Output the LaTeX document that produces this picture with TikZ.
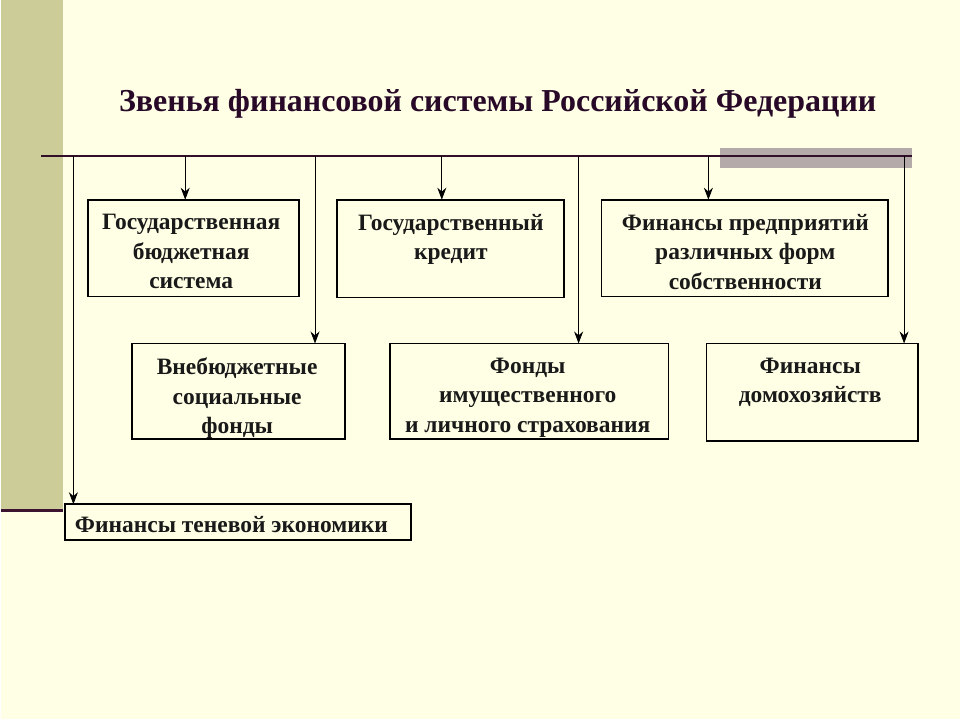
\documentclass[tikz,border=0pt]{standalone}
\usepackage{fontspec}
\setmainfont{Liberation Serif}
\usetikzlibrary{arrows.meta}
\begin{document}
\begin{tikzpicture}[x=1pt,y=-1pt,
 box/.style={draw=black,line width=1.8pt},
 txt/.style={anchor=north,align=center,font=\bfseries\fontsize{23.5}{29.5}\selectfont,text=black!90},
 arr/.style={-{Stealth[length=12pt,width=9pt]},line width=0.8pt}]
\fill[fill={rgb,255:red,255;green,255;blue,229}] (0,0) rectangle (960,720);
\fill[fill={rgb,255:red,204;green,204;blue,153}] (0,0) rectangle (62,510);
\draw[line width=3pt,draw={rgb,255:red,60;green,20;blue,50}] (0,511) -- (62,511);
\useasboundingbox (0,0) rectangle (960,720);
\node[font=\bfseries\fontsize{32}{36}\selectfont,text={rgb,255:red,40;green,10;blue,40}] (title) at (497,104) {Звенья финансовой системы Российской Федерации};
\fill[fill={rgb,255:red,180;green,170;blue,170}] (720,148) rectangle (912,168);
\coordinate (L0) at (40,156); \coordinate (L1) at (912,156);
\draw[line width=2pt,draw={rgb,255:red,50;green,15;blue,40}] (L0) -- (L1);
% boxes
\draw[box] (87,200) rectangle (298,297);
\draw[box] (336,200) rectangle (563,298);
\draw[box] (601,200) rectangle (888,297);
\draw[box] (131,344) rectangle (344,440);
\draw[box] (389,344) rectangle (668,440);
\draw[box] (706,344) rectangle (918,442);
\draw[box] (64,505) rectangle (410,541);
\node[txt] (t1) at (190,211) {Государственная\\бюджетная\\система};
\node[txt] (t2) at (450,211) {Государственный\\кредит};
\node[txt] (t3) at (745,211) {Финансы предприятий\\различных форм\\собственности};
\node[txt] (t4) at (236,355) {Внебюджетные\\социальные\\фонды};
\node[txt] (t5) at (527,355) {Фонды\\имущественного\\и личного страхования};
\node[txt] (t6) at (810,355) {Финансы\\домохозяйств};
\node[txt,anchor=west] (t7) at (70,525) {Финансы теневой экономики};
% arrows
\foreach \x/\y in {184/200,441/200,708/200,314/344,578/344,904/344,72/505}
 \draw[arr] (\x,156) -- (\x,\y);
\end{tikzpicture}
\end{document}
